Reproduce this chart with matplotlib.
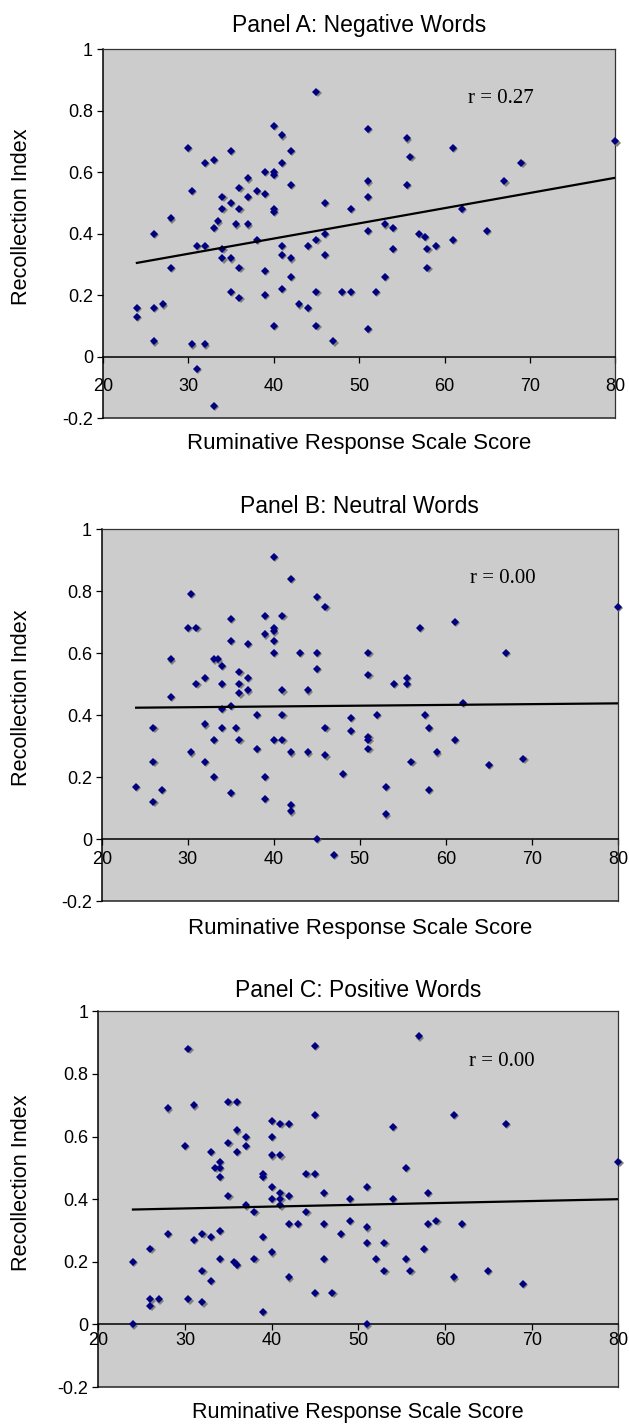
import numpy as np
import matplotlib
matplotlib.use('Agg')
import matplotlib.pyplot as plt
import matplotlib.transforms as mtransforms

# Panel A: negative words
neg_x = [45, 40, 41, 30, 35, 42, 32, 33, 41, 40, 39, 40, 37, 36, 30.4, 38, 39, 42, 34, 37,
         35, 46, 34, 36, 40, 40, 49, 28, 33.5, 33, 35.6, 37, 26, 46, 38, 45, 31, 32, 41, 44,
         34, 41, 46, 34, 35, 42, 28, 36, 39, 42, 35, 36, 41, 39, 45, 48, 49, 24, 24, 26,
         27, 43, 44, 40, 45, 26, 47, 30.4, 32, 31, 33,
         51, 55.6, 56, 61, 80, 69, 67, 51, 51, 55.6, 62, 53, 54, 51, 65, 57, 57.7, 54, 58, 59,
         61, 58, 53, 52, 51]
neg_y = [0.86, 0.75, 0.72, 0.68, 0.67, 0.67, 0.63, 0.64, 0.63, 0.60, 0.60, 0.59, 0.58, 0.55, 0.54, 0.54, 0.53, 0.56, 0.52, 0.52,
         0.50, 0.50, 0.48, 0.48, 0.48, 0.47, 0.48, 0.45, 0.44, 0.42, 0.43, 0.43, 0.40, 0.40, 0.38, 0.38, 0.36, 0.36, 0.36, 0.36,
         0.35, 0.33, 0.33, 0.32, 0.32, 0.32, 0.29, 0.29, 0.28, 0.26, 0.21, 0.19, 0.22, 0.20, 0.21, 0.21, 0.21, 0.16, 0.13, 0.16,
         0.17, 0.17, 0.16, 0.10, 0.10, 0.05, 0.05, 0.04, 0.04, -0.04, -0.16,
         0.74, 0.71, 0.65, 0.68, 0.70, 0.63, 0.57, 0.57, 0.52, 0.56, 0.48, 0.43, 0.42, 0.41, 0.41, 0.40, 0.39, 0.35, 0.35, 0.36,
         0.38, 0.29, 0.26, 0.21, 0.09]

# Panel B: neutral words
neu_x = [40, 42, 30.4, 45, 46, 35, 39, 41, 30, 31, 40, 40, 39, 35, 40, 37, 40, 43, 45, 28,
         33, 33.5, 34, 45, 36, 32, 37, 31, 34, 36, 36, 37, 41, 44, 28, 35, 34, 38, 41, 49,
         49, 26, 32, 34, 35.6, 46, 33, 36, 40, 41, 38, 30.4, 42, 44, 46, 26, 32, 48, 33, 39,
         24, 27, 26, 35, 39, 42, 42, 45, 47,
         80, 61, 57, 51, 67, 51, 55.5, 55.5, 54, 62, 52, 57.6, 58, 51, 51, 61, 51, 59, 56, 65,
         69, 53, 58, 53]
neu_y = [0.91, 0.84, 0.79, 0.78, 0.75, 0.71, 0.72, 0.72, 0.68, 0.68, 0.68, 0.67, 0.66, 0.64, 0.64, 0.63, 0.60, 0.60, 0.60, 0.58,
         0.58, 0.58, 0.56, 0.55, 0.54, 0.52, 0.52, 0.50, 0.50, 0.50, 0.47, 0.48, 0.48, 0.48, 0.46, 0.43, 0.42, 0.40, 0.40, 0.39,
         0.35, 0.36, 0.37, 0.36, 0.36, 0.36, 0.32, 0.32, 0.32, 0.32, 0.29, 0.28, 0.28, 0.28, 0.27, 0.25, 0.25, 0.21, 0.20, 0.20,
         0.17, 0.16, 0.12, 0.15, 0.13, 0.11, 0.09, 0.00, -0.05,
         0.75, 0.70, 0.68, 0.60, 0.60, 0.53, 0.52, 0.50, 0.50, 0.44, 0.40, 0.40, 0.36, 0.33, 0.32, 0.32, 0.29, 0.28, 0.25, 0.24,
         0.26, 0.17, 0.16, 0.08]

# Panel C: positive words
pos_x = [30.4, 45, 35, 36, 28, 31, 45, 40, 41, 42, 36, 37, 40, 30, 35, 37, 33, 36, 40, 41,
         34, 33.5, 34, 34, 39, 39, 44, 45, 40, 35, 41, 41, 40, 42, 46, 49, 41, 37, 38, 44,
         49, 42, 43, 46, 28, 32, 33, 34, 31, 39, 48, 26, 40, 24, 34, 35.7, 36, 38, 46, 32,
         33, 42, 45, 47, 26, 26, 27, 30.4, 32, 39, 24,
         57, 61, 67, 54, 80, 55.5, 51, 58, 54, 59, 58, 62, 51, 51, 53, 57.6, 52, 55.5, 53, 56,
         65, 61, 69, 51]
pos_y = [0.88, 0.89, 0.71, 0.71, 0.69, 0.70, 0.67, 0.65, 0.64, 0.64, 0.62, 0.60, 0.60, 0.57, 0.58, 0.57, 0.55, 0.55, 0.54, 0.54,
         0.52, 0.50, 0.50, 0.47, 0.48, 0.47, 0.48, 0.48, 0.44, 0.41, 0.42, 0.40, 0.40, 0.41, 0.42, 0.40, 0.38, 0.38, 0.36, 0.36,
         0.33, 0.32, 0.32, 0.32, 0.29, 0.29, 0.28, 0.30, 0.27, 0.28, 0.29, 0.24, 0.23, 0.20, 0.21, 0.20, 0.19, 0.21, 0.21, 0.17,
         0.14, 0.15, 0.10, 0.10, 0.08, 0.06, 0.08, 0.08, 0.07, 0.04, 0.00,
         0.92, 0.67, 0.64, 0.63, 0.52, 0.50, 0.44, 0.42, 0.40, 0.33, 0.32, 0.32, 0.31, 0.26, 0.26, 0.24, 0.21, 0.21, 0.17, 0.17,
         0.17, 0.15, 0.13, 0.00]

# trend lines as drawn in the original (value at x = 24 and x = 80)
trend_x = [24, 80]
trend_neg = [0.305, 0.582]
trend_neu = [0.424, 0.438]
trend_pos = [0.367, 0.400]

titles = ['Panel A: Negative Words', 'Panel B: Neutral Words', 'Panel C: Positive Words']
r_labels = ['r = 0.27', 'r = 0.00', 'r = 0.00']
xticks = [20, 30, 40, 50, 60, 70, 80]
yticks = [-0.2, 0, 0.2, 0.4, 0.6, 0.8, 1]
ytick_labels = ['-0.2', '0', '0.2', '0.4', '0.6', '0.8', '1']

W, H = 629, 1424
fig = plt.figure(figsize=(W / 100, H / 100), dpi=100)
fig.patch.set_facecolor('white')

# left, right, top, bottom of each plot area in pixels
boxes = [(102.7, 615.5, 49.2, 418.2),
         (101.7, 618.0, 529.0, 901.3),
         (98.3, 618.3, 1011.4, 1387.0)]
xpads = [11.5, 4.5, 1.5]
title_gap = [17, 16, 14]
xlabel_gap = [31, 33, 31]
xlabel_size = [16, 16, 15.5]
sans = 'Liberation Sans'


def panel(i, xs, ys, ty):
    l, r, t, b = boxes[i]
    ax = fig.add_axes([l / W, 1 - b / H, (r - l) / W, (b - t) / H])
    ax.set_facecolor('#cccccc')
    ax.set_xlim(20, 80)
    ax.set_ylim(-0.2, 1)

    # drop shadow then the diamonds
    shadow = mtransforms.offset_copy(ax.transData, fig=fig, x=1.2, y=-1.2, units='dots')
    ax.plot(xs, ys, 'D', color='#7f7f7f', markersize=3.7, markeredgewidth=0,
            transform=shadow, clip_on=False, zorder=3)
    ax.plot(xs, ys, 'D', color='#000080', markersize=3.7, markeredgewidth=0,
            clip_on=False, zorder=4)

    ax.plot(trend_x, ty, color='black', lw=1.6, zorder=5)

    ax.text(66.6, 0.84, r_labels[i], fontsize=15, family='Liberation Serif',
            ha='center', va='center')

    # x axis crosses at y = 0
    ax.spines['bottom'].set_position(('data', 0))
    ax.spines['bottom'].set_linewidth(1.1)
    ax.spines['left'].set_linewidth(1.1)
    for s in ['top', 'right']:
        ax.spines[s].set_color('#333333')
        ax.spines[s].set_linewidth(0.9)
    ax.plot([0, 1], [0, 0], transform=ax.transAxes, color='#333333', lw=1.2, clip_on=False)

    ax.set_xticks(xticks)
    ax.set_yticks(yticks)
    ax.set_yticklabels(ytick_labels)
    ax.tick_params(axis='both', direction='out', length=4, width=0.9, labelsize=13)
    ax.tick_params(axis='x', pad=xpads[i])
    ax.tick_params(axis='y', pad=3)
    for lab in ax.get_xticklabels() + ax.get_yticklabels():
        lab.set_family(sans)

    cx = (l + r) / 2
    fig.text(cx / W, 1 - (t - title_gap[i]) / H, titles[i], fontsize=16.5, family=sans,
             ha='center', va='baseline')
    fig.text(cx / W, 1 - (b + xlabel_gap[i]) / H, 'Ruminative Response Scale Score',
             fontsize=xlabel_size[i], family=sans, ha='center', va='baseline')
    fig.text(22 / W, 1 - ((t + b) / 2 - 17) / H, 'Recollection Index', fontsize=15.6,
             family=sans, rotation=90, ha='center', va='center')


panel(0, neg_x, neg_y, trend_neg)
panel(1, neu_x, neu_y, trend_neu)
panel(2, pos_x, pos_y, trend_pos)

fig.savefig('out.png', dpi=100)
